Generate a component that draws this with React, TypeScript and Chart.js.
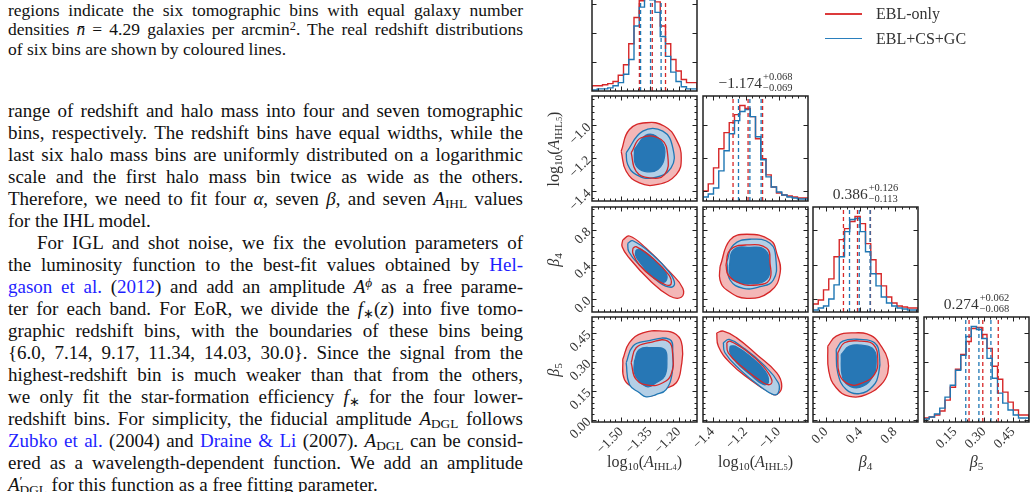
import React, { useEffect, useRef } from "react";
import { Chart, registerables } from "chart.js";

Chart.register(...registerables);

const SERIF = "'Liberation Serif', 'Times New Roman', serif";
const INK = "#333333";
const LINK = "#1f1fff";
const RED = "#d62728";
const BLUE = "#1f77b4";
const RED_FILL = "#f3b7b7";
const BLUE_FILL = "#b4cfe6";
const BLUE_CORE = "#2777b5";

// ---------- axis limits and ticks of the four parameters ----------
const rangeA4 = [-1.652, -1.105];
const rangeA5 = [-1.458, -0.822];
const rangeB4 = [-0.15, 1.067];
const rangeB5 = [-0.01, 0.533];

const ticksA4 = [-1.5, -1.35, -1.2];
const ticksA5 = [-1.4, -1.2, -1.0];
const ticksB4 = [0.0, 0.4, 0.8];
const ticksB5 = [0.0, 0.15, 0.3, 0.45];
const ticksB5Hist = [0.15, 0.3, 0.45];

// ---------- marginal histograms (20 bins over each axis range) ----------
const histA4Red = [0, 5, 5, 6, 7, 9, 15, 25, 45, 70, 86, 89, 91, 85, 62, 45, 30, 19, 11, 8];
const histA4Blue = [0, 1, 2, 2, 3, 5, 8, 16, 30, 62, 80, 88, 87, 75, 52, 33, 18, 9, 4, 2];
const histA5Red = [6, 10, 17, 33, 52, 68, 78, 86, 95, 92, 84, 62, 42, 26, 14, 8, 6, 5, 4, 3];
const histA5Blue = [2, 4, 7, 13, 30, 50, 67, 80, 89, 91, 84, 64, 41, 24, 14, 9, 6, 4, 3, 2];
const histB4Red = [6, 8, 12, 22, 33, 55, 72, 83, 90, 95, 88, 68, 52, 38, 26, 15, 9, 6, 5, 4];
const histB4Blue = [0, 2, 4, 6, 13, 27, 55, 80, 92, 93, 80, 60, 38, 26, 15, 9, 6, 4, 3, 2];
const histB5Red = [3, 4, 5, 7, 11, 22, 35, 53, 68, 81, 94, 95, 88, 74, 56, 43, 30, 20, 12, 7];
const histB5Blue = [2, 3, 5, 8, 14, 25, 37, 52, 67, 86, 96, 93, 84, 64, 44, 29, 19, 12, 7, 4];

// ---------- 16th / 50th / 84th percentiles ----------
const quantA4Red = [-1.405, -1.338, -1.269];
const quantA4Blue = [-1.399, -1.347, -1.292];
const quantA5Red = [-1.276, -1.185, -1.097];
const quantA5Blue = [-1.243, -1.174, -1.106];
const quantB4Red = [0.203, 0.366, 0.516];
const quantB4Blue = [0.273, 0.386, 0.512];
const quantB5Red = [0.223, 0.294, 0.374];
const quantB5Blue = [0.206, 0.274, 0.336];

// ---------- credible-region outlines, [x, y] vertices ----------
// log10(A_IHL5) vs log10(A_IHL4)
const a5a4RedOuter = [[-1.5, -1.157], [-1.457, -1.025], [-1.37, -0.984], [-1.274, -1.005], [-1.213, -1.086], [-1.187, -1.197], [-1.213, -1.298], [-1.309, -1.358], [-1.405, -1.348], [-1.474, -1.278]];
const a5a4BlueOuter = [[-1.474, -1.166], [-1.387, -1.035], [-1.283, -1.035], [-1.231, -1.136], [-1.24, -1.257], [-1.335, -1.318], [-1.422, -1.298], [-1.466, -1.237]];
const a5a4RedInner = [[-1.448, -1.166], [-1.396, -1.075], [-1.292, -1.086], [-1.257, -1.187], [-1.274, -1.298], [-1.353, -1.318], [-1.422, -1.278]];
const a5a4BlueInner = [[-1.431, -1.146], [-1.361, -1.055], [-1.292, -1.096], [-1.274, -1.187], [-1.309, -1.267], [-1.379, -1.278], [-1.425, -1.237]];
// beta4 vs log10(A_IHL4)
const b4a4RedOuter = [[-1.492, 0.685], [-1.457, 0.731], [-1.37, 0.588], [-1.248, 0.317], [-1.179, 0.125], [-1.187, 0.021], [-1.248, 0.036], [-1.353, 0.221], [-1.457, 0.473], [-1.495, 0.607]];
const b4a4BlueOuter = [[-1.466, 0.646], [-1.439, 0.676], [-1.335, 0.511], [-1.248, 0.306], [-1.222, 0.183], [-1.24, 0.137], [-1.3, 0.19], [-1.405, 0.395], [-1.46, 0.549]];
const b4a4RedInner = [[-1.439, 0.588], [-1.422, 0.607], [-1.335, 0.473], [-1.252, 0.279], [-1.24, 0.175], [-1.266, 0.163], [-1.335, 0.252], [-1.405, 0.395], [-1.439, 0.53]];
const b4a4BlueInner = [[-1.422, 0.569], [-1.396, 0.577], [-1.318, 0.433], [-1.266, 0.299], [-1.266, 0.213], [-1.292, 0.201], [-1.353, 0.299], [-1.405, 0.433], [-1.425, 0.511]];
// beta4 vs log10(A_IHL5)
const b4a5RedOuter = [[-1.355, 0.375], [-1.294, 0.685], [-1.193, 0.751], [-1.052, 0.685], [-1.011, 0.53], [-0.991, 0.299], [-1.052, 0.086], [-1.193, 0.009], [-1.314, 0.105], [-1.355, 0.221]];
const b4a5BlueOuter = [[-1.314, 0.433], [-1.274, 0.627], [-1.173, 0.693], [-1.052, 0.646], [-1.016, 0.453], [-1.032, 0.221], [-1.113, 0.143], [-1.214, 0.125], [-1.294, 0.221]];
const b4a5RedInner = [[-1.319, 0.395], [-1.294, 0.569], [-1.193, 0.627], [-1.072, 0.588], [-1.052, 0.415], [-1.056, 0.221], [-1.133, 0.163], [-1.234, 0.183], [-1.305, 0.279]];
const b4a5BlueInner = [[-1.299, 0.375], [-1.274, 0.569], [-1.173, 0.6], [-1.082, 0.569], [-1.056, 0.395], [-1.072, 0.229], [-1.173, 0.175], [-1.254, 0.201], [-1.294, 0.279]];
// beta5 vs log10(A_IHL4)
const b5a4RedOuter = [[-1.492, 0.313], [-1.457, 0.4], [-1.387, 0.451], [-1.283, 0.46], [-1.213, 0.442], [-1.182, 0.382], [-1.187, 0.278], [-1.213, 0.193], [-1.283, 0.158], [-1.353, 0.123], [-1.422, 0.158], [-1.483, 0.21]];
const b5a4BlueOuter = [[-1.474, 0.296], [-1.439, 0.382], [-1.37, 0.408], [-1.248, 0.417], [-1.231, 0.348], [-1.234, 0.244], [-1.266, 0.158], [-1.318, 0.132], [-1.37, 0.12], [-1.405, 0.141], [-1.457, 0.184]];
const b5a4RedInner = [[-1.448, 0.296], [-1.422, 0.374], [-1.353, 0.4], [-1.257, 0.408], [-1.231, 0.33], [-1.24, 0.236], [-1.283, 0.193], [-1.353, 0.179], [-1.422, 0.21]];
const b5a4BlueInner = [[-1.431, 0.304], [-1.405, 0.365], [-1.335, 0.374], [-1.274, 0.365], [-1.262, 0.304], [-1.274, 0.227], [-1.318, 0.193], [-1.361, 0.172], [-1.405, 0.201], [-1.431, 0.244]];
// beta5 vs log10(A_IHL5)
const b5a5RedOuter = [[-1.375, 0.451], [-1.335, 0.46], [-1.254, 0.425], [-1.133, 0.339], [-1.011, 0.244], [-0.981, 0.175], [-1.011, 0.132], [-1.052, 0.141], [-1.173, 0.21], [-1.294, 0.296], [-1.365, 0.382]];
const b5a5BlueOuter = [[-1.335, 0.4], [-1.299, 0.417], [-1.214, 0.374], [-1.093, 0.287], [-1.002, 0.193], [-1.002, 0.141], [-1.032, 0.132], [-1.113, 0.175], [-1.234, 0.261], [-1.325, 0.348]];
const b5a5RedInner = [[-1.314, 0.4], [-1.294, 0.408], [-1.193, 0.356], [-1.093, 0.278], [-1.042, 0.21], [-1.052, 0.184], [-1.093, 0.193], [-1.214, 0.27], [-1.305, 0.348]];
const b5a5BlueInner = [[-1.294, 0.382], [-1.264, 0.382], [-1.173, 0.33], [-1.082, 0.253], [-1.062, 0.196], [-1.093, 0.184], [-1.173, 0.236], [-1.254, 0.296], [-1.294, 0.348]];
// beta5 vs beta4
const b5b4RedOuter = [[0.021, 0.382], [0.119, 0.434], [0.311, 0.451], [0.524, 0.437], [0.64, 0.382], [0.717, 0.313], [0.717, 0.244], [0.64, 0.184], [0.466, 0.132], [0.273, 0.123], [0.119, 0.167], [0.033, 0.253]];
const b5b4BlueOuter = [[0.119, 0.365], [0.195, 0.408], [0.389, 0.417], [0.563, 0.4], [0.621, 0.33], [0.612, 0.244], [0.543, 0.175], [0.389, 0.137], [0.235, 0.158], [0.137, 0.244]];
const b5b4RedInner = [[0.137, 0.348], [0.215, 0.4], [0.409, 0.408], [0.551, 0.391], [0.601, 0.313], [0.563, 0.236], [0.427, 0.193], [0.273, 0.184], [0.157, 0.236]];
const b5b4BlueInner = [[0.177, 0.339], [0.273, 0.382], [0.427, 0.386], [0.551, 0.365], [0.582, 0.296], [0.543, 0.227], [0.427, 0.175], [0.293, 0.172], [0.195, 0.218]];

// ---------- grid geometry (page pixels) ----------
const COL_X = [592, 703, 813, 924];
const ROW_Y = [-14, 96, 207, 317];
const SIZE = 105;
const ML = 60, MR = 8, MT = 8, MB = 52;

type Param = { range: number[]; ticks: number[]; dec: number; minor: number };
const pA4: Param = { range: rangeA4, ticks: ticksA4, dec: 2, minor: 0.03 };
const pA5: Param = { range: rangeA5, ticks: ticksA5, dec: 1, minor: 0.04 };
const pB4: Param = { range: rangeB4, ticks: ticksB4, dec: 1, minor: 0.08 };
const pB5: Param = { range: rangeB5, ticks: ticksB5, dec: 2, minor: 0.03 };

function fmtNum(v: number, dec: number) {
  const s = Math.abs(v).toFixed(dec);
  return v < -1e-9 ? "\u2212" + s : s;
}

function minorValues(range: number[], majors: number[], step: number) {
  const out: number[] = [];
  const start = majors[0] - Math.ceil((majors[0] - range[0]) / step) * step;
  for (let v = start; v <= range[1] + 1e-9; v += step) {
    if (v < range[0] - 1e-9) continue;
    if (majors.some((m) => Math.abs(m - v) < step * 0.2)) continue;
    out.push(v);
  }
  return out;
}

function axisOpts(p: Param, position: string, tickVals: number[], showLabels: boolean) {
  const horizontal = position === "bottom";
  return {
    type: "linear",
    position,
    bounds: "data",
    min: p.range[0],
    max: p.range[1],
    grid: { display: false, drawTicks: false },
    border: { display: false },
    ticks: {
      display: showLabels,
      autoSkip: false,
      minRotation: 45,
      maxRotation: 45,
      padding: horizontal ? 2 : 3,
      color: "#333",
      font: { family: SERIF, size: 13.5 },
      callback: (v: any) => fmtNum(Number(v), p.dec),
    },
    afterBuildTicks: (s: any) => {
      s.ticks = tickVals.map((v) => ({ value: v }));
    },
    afterFit: (s: any) => {
      if (horizontal) s.height = MB;
      else s.width = ML;
      s.paddingLeft = 0;
      s.paddingRight = 0;
      s.paddingTop = 0;
      s.paddingBottom = 0;
    },
  };
}

// frame with inward major and minor ticks on all four sides
function framePlugin(xMaj: number[], xMin: number[], yId: string, yMaj: number[], yMin: number[]) {
  return {
    id: "frameTicks",
    afterDraw(chart: any) {
      const { ctx, chartArea: a } = chart;
      const xs = chart.scales.x;
      const ys = chart.scales[yId];
      ctx.save();
      ctx.strokeStyle = "#222";
      ctx.lineWidth = 1;
      ctx.beginPath();
      const vx = (v: number, len: number) => {
        const p = Math.round(xs.getPixelForValue(v)) + 0.5;
        if (p <= a.left + 1 || p >= a.right - 1) return;
        ctx.moveTo(p, a.bottom);
        ctx.lineTo(p, a.bottom - len);
        ctx.moveTo(p, a.top);
        ctx.lineTo(p, a.top + len);
      };
      const vy = (v: number, len: number) => {
        const p = Math.round(ys.getPixelForValue(v)) + 0.5;
        if (p <= a.top + 1 || p >= a.bottom - 1) return;
        ctx.moveTo(a.left, p);
        ctx.lineTo(a.left + len, p);
        ctx.moveTo(a.right, p);
        ctx.lineTo(a.right - len, p);
      };
      xMaj.forEach((v) => vx(v, 4.5));
      xMin.forEach((v) => vx(v, 2.5));
      yMaj.forEach((v) => vy(v, 4.5));
      yMin.forEach((v) => vy(v, 2.5));
      ctx.stroke();
      ctx.lineWidth = 1.5;
      ctx.strokeRect(a.left, a.top, a.right - a.left, a.bottom - a.top);
      ctx.restore();
    },
  };
}

function region(pts: number[][], stroke: string, fill: string | null, order: number) {
  const data = pts.map(([x, y]) => ({ x, y }));
  data.push({ ...data[0] });
  return {
    data,
    borderColor: stroke,
    borderWidth: 1.3,
    backgroundColor: fill || "rgba(0,0,0,0)",
    fill: fill ? "shape" : false,
    tension: 0.45,
    pointRadius: 0,
    order,
  };
}

function stepHist(counts: number[], range: number[], color: string, order: number) {
  const w = (range[1] - range[0]) / counts.length;
  const data = [{ x: range[0], y: 0 }];
  counts.forEach((c, i) => data.push({ x: range[0] + i * w, y: c }));
  data.push({ x: range[1], y: counts[counts.length - 1] });
  data.push({ x: range[1], y: 0 });
  return { data, stepped: "after", borderColor: color, borderWidth: 1.4, pointRadius: 0, fill: false, yAxisID: "y", order };
}

function quantLine(v: number, ymax: number, color: string, order: number) {
  return {
    data: [{ x: v, y: 0 }, { x: v, y: ymax }],
    borderColor: color,
    borderWidth: 1.3,
    borderDash: [4, 3],
    pointRadius: 0,
    fill: false,
    yAxisID: "y",
    order,
  };
}

type Spec = {
  col: number;
  row: number;
  kind: "hist" | "pair";
  xp: Param;
  yp: Param;
  xTicks: number[];
  xLabels: boolean;
  yLabels: boolean;
  ymax: number;
  datasets: any[];
};

function histSpec(col: number, p: Param, red: number[], blue: number[], qRed: number[], qBlue: number[], xTicks: number[], xLabels: boolean): Spec {
  const ymax = 1.1 * Math.max(...red, ...blue);
  return {
    col, row: col, kind: "hist", xp: p, yp: p, xTicks, xLabels, yLabels: false, ymax,
    datasets: [
      stepHist(red, p.range, RED, 6),
      stepHist(blue, p.range, BLUE, 5),
      ...qRed.map((q) => quantLine(q, ymax, RED, 3)),
      ...qBlue.map((q) => quantLine(q, ymax, BLUE, 2)),
    ],
  };
}

function pairSpec(col: number, row: number, xp: Param, yp: Param, ro: number[][], ri: number[][], bo: number[][], bi: number[][]): Spec {
  return {
    col, row, kind: "pair", xp, yp, xTicks: xp.ticks, xLabels: row === 3, yLabels: col === 0, ymax: 0,
    datasets: [
      region(ro, RED, RED_FILL, 8),
      region(bo, BLUE, BLUE_FILL, 7),
      region(bi, BLUE_CORE, BLUE_CORE, 6),
      region(ri, RED, null, 5),
    ],
  };
}

const specs: Spec[] = [
  histSpec(0, pA4, histA4Red, histA4Blue, quantA4Red, quantA4Blue, ticksA4, false),
  pairSpec(0, 1, pA4, pA5, a5a4RedOuter, a5a4RedInner, a5a4BlueOuter, a5a4BlueInner),
  histSpec(1, pA5, histA5Red, histA5Blue, quantA5Red, quantA5Blue, ticksA5, false),
  pairSpec(0, 2, pA4, pB4, b4a4RedOuter, b4a4RedInner, b4a4BlueOuter, b4a4BlueInner),
  pairSpec(1, 2, pA5, pB4, b4a5RedOuter, b4a5RedInner, b4a5BlueOuter, b4a5BlueInner),
  histSpec(2, pB4, histB4Red, histB4Blue, quantB4Red, quantB4Blue, ticksB4, false),
  pairSpec(0, 3, pA4, pB5, b5a4RedOuter, b5a4RedInner, b5a4BlueOuter, b5a4BlueInner),
  pairSpec(1, 3, pA5, pB5, b5a5RedOuter, b5a5RedInner, b5a5BlueOuter, b5a5BlueInner),
  pairSpec(2, 3, pB4, pB5, b5b4RedOuter, b5b4RedInner, b5b4BlueOuter, b5b4BlueInner),
  histSpec(3, pB5, histB5Red, histB5Blue, quantB5Red, quantB5Blue, ticksB5Hist, true),
];

function buildConfig(s: Spec) {
  const scales: any = { x: axisOpts(s.xp, "bottom", s.xTicks, s.xLabels) };
  let yId = "y";
  if (s.kind === "pair") {
    scales.y = axisOpts(s.yp, "left", s.yp.ticks, s.yLabels);
  } else {
    scales.y = {
      type: "linear",
      position: "left",
      min: 0,
      max: s.ymax,
      grid: { display: false, drawTicks: false },
      border: { display: false },
      ticks: { display: false },
      afterFit: (sc: any) => {
        sc.width = ML;
        sc.paddingTop = 0;
        sc.paddingBottom = 0;
      },
    };
    scales.yt = { type: "linear", axis: "y", position: "left", display: false, min: s.yp.range[0], max: s.yp.range[1] };
    yId = "yt";
  }
  const xMin = minorValues(s.xp.range, s.xTicks, s.xp.minor);
  const yMin = s.kind === "pair" ? minorValues(s.yp.range, s.yp.ticks, s.yp.minor) : [];
  return {
    type: "line",
    data: { datasets: s.datasets },
    options: {
      animation: false,
      responsive: false,
      events: [],
      layout: { padding: { left: 0, right: MR, top: MT, bottom: 0 } },
      plugins: { legend: { display: false }, tooltip: { enabled: false } },
      scales,
    },
    plugins: [framePlugin(s.xTicks, xMin, yId, s.yp.ticks, yMin)],
  };
}

function PanelChart({ spec }: { spec: Spec }) {
  const ref = useRef<HTMLCanvasElement | null>(null);
  useEffect(() => {
    const chart = new Chart(ref.current as HTMLCanvasElement, buildConfig(spec) as any);
    return () => chart.destroy();
  }, [spec]);
  const w = ML + SIZE + MR;
  const h = MT + SIZE + MB;
  return (
    <canvas
      ref={ref}
      width={w}
      height={h}
      style={{ position: "absolute", left: COL_X[spec.col] - ML, top: ROW_Y[spec.row] - MT, width: w, height: h, pointerEvents: "none" }}
    />
  );
}

// title over each marginal: median with upper / lower offsets
function HistTitle({ col, q }: { col: number; q: number[] }) {
  const cx = COL_X[col] + SIZE / 2;
  const top = ROW_Y[col] - 24;
  return (
    <div style={{ position: "absolute", left: cx, top, transform: "translateX(-50%)", display: "flex", alignItems: "flex-start", whiteSpace: "nowrap", color: INK }}>
      <span style={{ fontSize: 15.5, lineHeight: "16px", marginTop: 3 }}>{fmtNum(q[1], 3)}</span>
      <span style={{ display: "flex", flexDirection: "column", fontSize: 10.5, lineHeight: "10.5px", marginLeft: 1 }}>
        <span>{"+" + (q[2] - q[1]).toFixed(3)}</span>
        <span>{"\u2212" + (q[1] - q[0]).toFixed(3)}</span>
      </span>
    </div>
  );
}

const subS: React.CSSProperties = { fontSize: "0.7em", verticalAlign: "-0.25em", lineHeight: 0 };
const supS: React.CSSProperties = { fontSize: "0.7em", verticalAlign: "0.45em", lineHeight: 0 };

function LogLabel({ idx }: { idx: string }) {
  return (
    <span>
      log<span style={subS}>10</span>(<i>A</i>
      <span style={subS}>
        IHL<span style={{ fontSize: "0.75em" }}>{idx}</span>
      </span>
      )
    </span>
  );
}

function BetaLabel({ idx }: { idx: string }) {
  return (
    <span>
      <i>β</i>
      <span style={subS}>{idx}</span>
    </span>
  );
}

function XLabel({ col, children }: { col: number; children: React.ReactNode }) {
  return (
    <div style={{ position: "absolute", left: COL_X[col] + SIZE / 2, top: 462, transform: "translate(-50%, -50%)", whiteSpace: "nowrap", fontSize: 16, color: INK }}>
      {children}
    </div>
  );
}

function YLabel({ row, children }: { row: number; children: React.ReactNode }) {
  return (
    <div style={{ position: "absolute", left: 554, top: ROW_Y[row] + SIZE / 2, transform: "translate(-50%, -50%) rotate(-90deg)", whiteSpace: "nowrap", fontSize: 16, color: INK }}>
      {children}
    </div>
  );
}

// ---------- running text ----------
const CAP_FS = 17.5, CAP_LH = 19.5, CAP_BASE = 16.5, CAP_STEP = 19.6;
const BODY_FS = 19, BODY_LH = 22, BODY_BASE = 117.5, BODY_STEP = 22;
const TEXT_LEFT = 8, TEXT_WIDTH = 515;

function lineTop(base: number, fs: number, lh: number) {
  return base - ((lh - 1.107 * fs) / 2 + 0.891 * fs);
}

function TextLine({ base, fs, lh, last, indent, children }: { base: number; fs: number; lh: number; last?: boolean; indent?: number; children: React.ReactNode }) {
  const ind = indent || 0;
  return (
    <div
      style={{
        position: "absolute",
        left: TEXT_LEFT + ind,
        width: TEXT_WIDTH - ind,
        top: lineTop(base, fs, lh),
        height: lh,
        lineHeight: lh + "px",
        fontSize: fs,
        textAlign: "justify",
        textAlignLast: last ? "left" : "justify",
        color: "#111",
      }}
    >
      {children}
    </div>
  );
}

const Ln = ({ children }: { children: React.ReactNode }) => <span style={{ color: LINK }}>{children}</span>;

const captionLines: React.ReactNode[] = [
  <>regions indicate the six tomographic bins with equal galaxy number</>,
  <>
    densities <i>n̄</i> = 4.29 galaxies per arcmin<span style={supS}>2</span>. The real redshift distributions
  </>,
  <>of six bins are shown by coloured lines.</>,
];

const bodyLines: React.ReactNode[] = [
  <>range of redshift and halo mass into four and seven tomographic</>,
  <>bins, respectively. The redshift bins have equal widths, while the</>,
  <>last six halo mass bins are uniformly distributed on a logarithmic</>,
  <>scale and the first halo mass bin twice as wide as the others.</>,
  <>
    Therefore, we need to fit four <i>α</i>, seven <i>β</i>, and seven <i>A</i>
    <span style={subS}>IHL</span> values
  </>,
  <>for the IHL model.</>,
  <>For IGL and shot noise, we fix the evolution parameters of</>,
  <>
    the luminosity function to the best-fit values obtained by <Ln>Hel-</Ln>
  </>,
  <>
    <Ln>gason et al.</Ln> (<Ln>2012</Ln>) and add an amplitude <i>A</i>
    <span style={supS}>
      <i>ϕ</i>
    </span>{" "}
    as a free parame-
  </>,
  <>
    ter for each band. For EoR, we divide the <i>f</i>
    <span style={subS}>∗</span>(<i>z</i>) into five tomo-
  </>,
  <>graphic redshift bins, with the boundaries of these bins being</>,
  <>{"{6.0, 7.14, 9.17, 11.34, 14.03, 30.0}. Since the signal from the"}</>,
  <>highest-redshift bin is much weaker than that from the others,</>,
  <>
    we only fit the star-formation efficiency <i>f</i>
    <span style={subS}>∗</span> for the four lower-
  </>,
  <>
    redshift bins. For simplicity, the fiducial amplitude <i>A</i>
    <span style={subS}>DGL</span> follows
  </>,
  <>
    <Ln>Zubko et al.</Ln> (2004) and <Ln>Draine &amp; Li</Ln> (2007). <i>A</i>
    <span style={subS}>DGL</span> can be consid-
  </>,
  <>ered as a wavelength-dependent function. We add an amplitude</>,
  <>
    <i>A</i>
    <span style={supS}>′</span>
    <span style={{ ...subS, marginLeft: -3 }}>DGL</span> for this function as a free fitting parameter.
  </>,
];

const BODY_LAST = [5, 17];
const BODY_INDENT = [6];

export default function App() {
  return (
    <div
      style={{
        position: "absolute",
        left: 0,
        top: 0,
        width: 1036,
        height: 492,
        overflow: "hidden",
        background: "#ffffff",
        fontFamily: SERIF,
      }}
    >
      {captionLines.map((c, i) => (
        <TextLine key={"c" + i} base={CAP_BASE + i * CAP_STEP} fs={CAP_FS} lh={CAP_LH} last={i === captionLines.length - 1}>
          {c}
        </TextLine>
      ))}
      {bodyLines.map((c, i) => (
        <TextLine
          key={"b" + i}
          base={BODY_BASE + i * BODY_STEP}
          fs={BODY_FS}
          lh={BODY_LH}
          last={BODY_LAST.includes(i)}
          indent={BODY_INDENT.includes(i) ? 29 : 0}
        >
          {c}
        </TextLine>
      ))}

      {specs.map((s, i) => (
        <PanelChart key={"p" + i} spec={s} />
      ))}

      <HistTitle col={0} q={quantA4Blue} />
      <HistTitle col={1} q={quantA5Blue} />
      <HistTitle col={2} q={quantB4Blue} />
      <HistTitle col={3} q={quantB5Blue} />

      <YLabel row={1}>
        <LogLabel idx="5" />
      </YLabel>
      <YLabel row={2}>
        <BetaLabel idx="4" />
      </YLabel>
      <YLabel row={3}>
        <BetaLabel idx="5" />
      </YLabel>
      <XLabel col={0}>
        <LogLabel idx="4" />
      </XLabel>
      <XLabel col={1}>
        <LogLabel idx="5" />
      </XLabel>
      <XLabel col={2}>
        <BetaLabel idx="4" />
      </XLabel>
      <XLabel col={3}>
        <BetaLabel idx="5" />
      </XLabel>

      <div style={{ position: "absolute", left: 825, top: 13, width: 37, height: 1.6, background: "#dc3a3b" }} />
      <div style={{ position: "absolute", left: 876, top: 5.6, fontSize: 16, lineHeight: "16px", color: INK, whiteSpace: "nowrap" }}>EBL-only</div>
      <div style={{ position: "absolute", left: 825, top: 37.5, width: 37, height: 1.6, background: "#2a7fbd" }} />
      <div style={{ position: "absolute", left: 876, top: 30.6, fontSize: 16, lineHeight: "16px", color: INK, whiteSpace: "nowrap" }}>EBL+CS+GC</div>
    </div>
  );
}
